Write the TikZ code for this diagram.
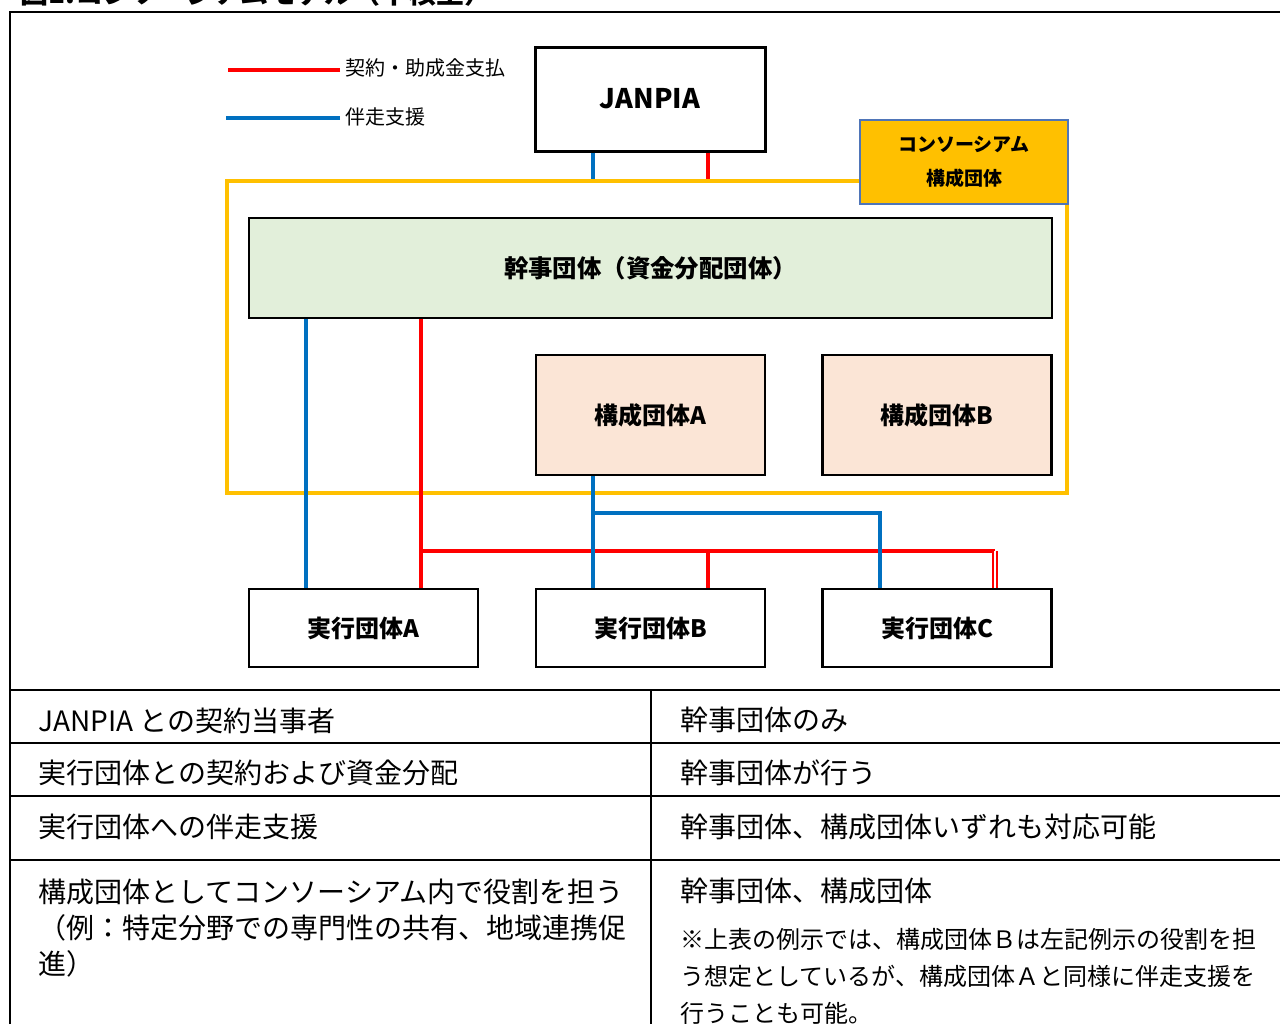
\documentclass[tikz,border=0pt]{standalone}
\usepackage{fontspec}
\setmainfont{Noto Sans CJK JP}
\usepackage{xcolor}
\usepackage{tikz}
\definecolor{consortYellow}{HTML}{FFC000}
\definecolor{kanjiGreen}{HTML}{E2EFDA}
\definecolor{memberPeach}{HTML}{FBE5D6}
\definecolor{contractRed}{HTML}{FF0000}
\definecolor{supportBlue}{HTML}{0070C0}
\definecolor{labelBlue}{HTML}{4F75B8}
\tikzset{
  orgbox/.style={draw=black,line width=1.3pt,inner sep=0pt,align=center},
  contract/.style={draw=contractRed,line width=2pt},
  support/.style={draw=supportBlue,line width=2pt},
  celltext/.style={anchor=base west,inner sep=0pt,align=left,font=\fontsize{14}{18}\selectfont},
  notetext/.style={anchor=base west,inner sep=0pt,align=left,font=\fontsize{12}{18.5}\selectfont}
}

\begin{document}
\begin{tikzpicture}[x=0.5pt,y=-0.5pt]
            \useasboundingbox (0,0) rectangle (1280,1024);
            \node[anchor=base west,inner sep=0pt,font=\bfseries\fontsize{14}{16}\selectfont] (title) at (20,3) {図1.コンソーシアムモデル（中核型）};
            \draw[line width=1pt] (10,1024) -- (10,12) -- (1280,12);
            \node[anchor=west,inner sep=0pt,font=\fontsize{10}{12}\selectfont] (legRed) at (345,68) {契約・助成金支払};
            \node[anchor=west,inner sep=0pt,font=\fontsize{10}{12}\selectfont] (legBlue) at (345,117) {伴走支援};
            \draw[contract] ([shift={(-5,2)}]legRed.west) -- ++(-112,0);
            \draw[support] ([shift={(-5,1)}]legBlue.west) -- ++(-114,0);
            \node[orgbox,line width=1.5pt,minimum width=115pt,minimum height=52pt,font=\bfseries\fontsize{13.5}{15}\selectfont] (janpia) at (650,99) {JANPIA};
            \node[draw=consortYellow,line width=2pt,minimum width=420pt,minimum height=156pt,inner sep=0pt] (consortium) at (647,337) {};
            \node[draw=labelBlue,fill=consortYellow,line width=0.6pt,minimum width=104pt,minimum height=42pt,inner sep=0pt,align=center,font=\bfseries\fontsize{9.5}{17}\selectfont] (member) at (964,162) {\raisebox{1.2pt}{コンソーシアム}\\\raisebox{1.2pt}{構成団体}};
            \node[orgbox,fill=kanjiGreen,minimum width=401.5pt,minimum height=50pt,font=\bfseries\fontsize{12.2}{14}\selectfont] (kanji) at (650.5,268) {幹事団体（資金分配団体）};
            \node[orgbox,fill=memberPeach,minimum width=114.5pt,minimum height=60pt,font=\bfseries\fontsize{12}{14}\selectfont] (kouseiA) at (650.5,415) {構成団体A};
            \node[orgbox,fill=memberPeach,minimum width=114.5pt,minimum height=60pt,font=\bfseries\fontsize{12}{14}\selectfont] (kouseiB) at (937,415) {構成団体B};
            \node[orgbox,fill=white,minimum width=114.5pt,minimum height=39pt,font=\bfseries\fontsize{12}{14}\selectfont] (jikkoA) at (363.5,628) {実行団体A};
            \node[orgbox,fill=white,minimum width=114.5pt,minimum height=39pt,font=\bfseries\fontsize{12}{14}\selectfont] (jikkoB) at (650.5,628) {実行団体B};
            \node[orgbox,fill=white,minimum width=114.5pt,minimum height=39pt,font=\bfseries\fontsize{12}{14}\selectfont] (jikkoC) at (937,628) {実行団体C};
            \coordinate (xa) at (306,0);
            \coordinate (xb) at (421,0);
            \coordinate (xc) at (593,0);
            \coordinate (xd) at (708,0);
            \coordinate (xe) at (880,0);
            \coordinate (xf) at (995,0);
            \coordinate (yb) at (0,513);
            \coordinate (yr) at (0,551);
            \draw[contract] (janpia.south -| xd) -- (consortium.north -| xd);
            \draw[support] (janpia.south -| xc) -- (consortium.north -| xc);
            \draw[contract] (kanji.south -| xb) -- (jikkoA.north -| xb);
            \draw[contract] (xb |- yr) -- (xf |- yr);
            \draw[contract] (xd |- yr) -- (jikkoB.north -| xd);
            \draw[draw=contractRed,line width=1pt,double=white,double distance=0.6pt] (xf |- yr) -- (jikkoC.north -| xf);
            \draw[support] (kanji.south -| xa) -- (jikkoA.north -| xa);
            \draw[support] (kouseiA.south -| xc) -- (jikkoB.north -| xc);
            \draw[support] (xc |- yb) -| (jikkoC.north -| xe);
            \draw[line width=0.7pt] (10,690) -- (1280,690);
            \draw[line width=1.2pt] (10,690) -- (192,690);
            \draw[line width=1.2pt] (1110,690) -- (1280,690);
            \draw[line width=1.2pt] (10,743) -- (1280,743);
            \draw[line width=1.2pt] (10,796) -- (1280,796);
            \draw[line width=1.2pt] (10,860) -- (1280,860);
            \draw[line width=1pt] (651,690) -- (651,1024);
            \node[celltext] (partyL) at (38,731) {JANPIA との契約当事者};
            \node[celltext] (partyR) at (680,730) {幹事団体のみ};
            \node[celltext] (fundL) at (38,783) {実行団体との契約および資金分配};
            \node[celltext] (fundR) at (680,783) {幹事団体が行う};
            \node[celltext] (supportL) at (38,837) {実行団体への伴走支援};
            \node[celltext] (supportR) at (680,837) {幹事団体、構成団体いずれも対応可能};
            \node[celltext] (roleL) at (38,974) {構成団体としてコンソーシアム内で役割を担う\\（例：特定分野での専門性の共有、地域連携促\\進）};
            \node[celltext] (roleR) at (680,901) {幹事団体、構成団体};
            \node[notetext] (note) at (680,1022) {※上表の例示では、構成団体Ｂは左記例示の役割を担\\う想定としているが、構成団体Ａと同様に伴走支援を\\行うことも可能。};
          \end{tikzpicture}
\end{document}
